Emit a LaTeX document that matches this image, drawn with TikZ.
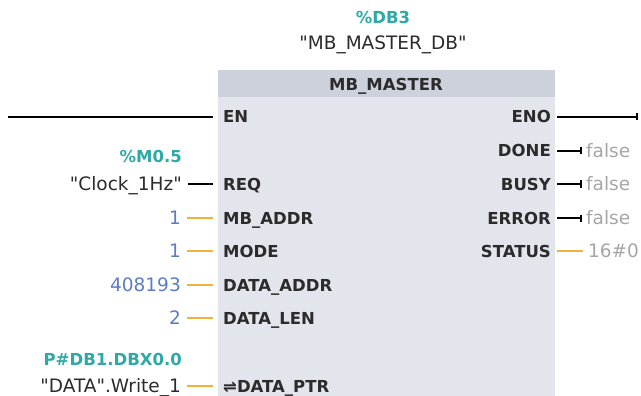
\documentclass[tikz,border=0pt]{standalone}
\usepackage{fontspec}
\newfontfamily\dv{DejaVu Sans}
\usetikzlibrary{arrows.meta}
\definecolor{blockbg}{HTML}{E2E5EC}
\definecolor{headbg}{HTML}{CDD1DC}
\definecolor{txt}{HTML}{2B2B2B}
\definecolor{tealc}{HTML}{2FA8A8}
\definecolor{bluec}{HTML}{5C7CC4}
\definecolor{grayc}{HTML}{A6A6A6}
\definecolor{orangec}{HTML}{F0B23A}
\begin{document}
\begin{tikzpicture}[x=1pt,y=-1pt,
  lbl/.style={inner sep=0pt, font=\dv\fontsize{18.5}{20}\selectfont, text height=13pt, text depth=0pt, text=txt},
  blbl/.style={inner sep=0pt, font=\dv\bfseries\fontsize{16.5}{19}\selectfont, text height=12pt, text depth=0pt, text=txt},
  lpin/.style={blbl, anchor=west},
  rpin/.style={blbl, anchor=east},
  val/.style={lbl, anchor=east},
  tval/.style={blbl, anchor=east, text=tealc},
  blackline/.style={draw=black, line width=2.2pt},
  orangeline/.style={draw=orangec, line width=2pt},
  barend/.style={-{Bar[width=7pt,line width=1.6pt]}}
]
\useasboundingbox (0,0) rectangle (641,396);
% block
\fill[blockbg] (218,70) rectangle (555,396);
\fill[headbg] (218,70) rectangle (555,97);
\node[blbl] (title) at (386,85) {MB\_MASTER};
\node[lbl] (inst) at (383,43) {"MB\_MASTER\_DB"};
\node[blbl, text=tealc] (db) at (383,18) {\%DB3};
% pin coordinates
\coordinate (pEN) at (213,117);
\coordinate (pREQ) at (213,184);
\coordinate (pMB) at (213,218);
\coordinate (pMODE) at (213,251);
\coordinate (pDA) at (213,285);
\coordinate (pDL) at (213,318);
\coordinate (pDP) at (213,386);
\coordinate (pENO) at (557,117);
\coordinate (pDONE) at (557,151);
\coordinate (pBUSY) at (557,184);
\coordinate (pERR) at (557,218);
\coordinate (pSTAT) at (557,251);
% left labels
\node[lpin] (en) at (223,117) {EN};
\node[lpin] (req) at (223,184) {REQ};
\node[lpin] (mbaddr) at (223,218) {MB\_ADDR};
\node[lpin] (mode) at (223,251) {MODE};
\node[lpin] (daddr) at (223,285) {DATA\_ADDR};
\node[lpin] (dlen) at (223,318) {DATA\_LEN};
\node[lpin] (dptr) at (223,386) {⇌DATA\_PTR};
% right labels
\node[rpin] (eno) at (551,117) {ENO};
\node[rpin] (done) at (551,151) {DONE};
\node[rpin] (busy) at (551,184) {BUSY};
\node[rpin] (error) at (551,218) {ERROR};
\node[rpin] (status) at (551,251) {STATUS};
% left values
\node[tval] (m05) at (182,157) {\%M0.5};
\node[val] (clk) at (182,184) {"Clock\_1Hz"};
\node[val, text=bluec] (v1) at (181,218) {1};
\node[val, text=bluec] (v2) at (181,251) {1};
\node[val, text=bluec] (v3) at (181,285) {408193};
\node[val, text=bluec] (v4) at (181,318) {2};
\node[tval] (pdb) at (182,359) {P\#DB1.DBX0.0};
\node[val] (wr) at (181,386) {"DATA".Write\_1};
% right values
\node[lbl, anchor=west, text=grayc] (f1) at (586,151) {false};
\node[lbl, anchor=west, text=grayc] (f2) at (586,184) {false};
\node[lbl, anchor=west, text=grayc] (f3) at (586,218) {false};
\node[lbl, anchor=west, text=grayc] (s0) at (588,251) {16\#0};
\coordinate (enL) at (8,117);
\coordinate (enoR) at (638,117);
% connectors left
\draw[blackline] (enL) -- (pEN);
\draw[blackline] ([xshift=6pt]clk.east) -- (pREQ);
\draw[orangeline] ([xshift=6pt]v1.east) -- (pMB);
\draw[orangeline] ([xshift=6pt]v2.east) -- (pMODE);
\draw[orangeline] ([xshift=6pt]v3.east) -- (pDA);
\draw[orangeline] ([xshift=6pt]v4.east) -- (pDL);
\draw[orangeline] ([xshift=6pt]wr.east) -- (pDP);
% connectors right
\draw[blackline, barend] (pENO) -- (enoR);
\draw[blackline, barend] (pDONE) -- ([xshift=-4pt]f1.west);
\draw[blackline, barend] (pBUSY) -- ([xshift=-4pt]f2.west);
\draw[blackline, barend] (pERR) -- ([xshift=-4pt]f3.west);
\draw[orangeline] (pSTAT) -- ([xshift=-5pt]s0.west);
\end{tikzpicture}
\end{document}
